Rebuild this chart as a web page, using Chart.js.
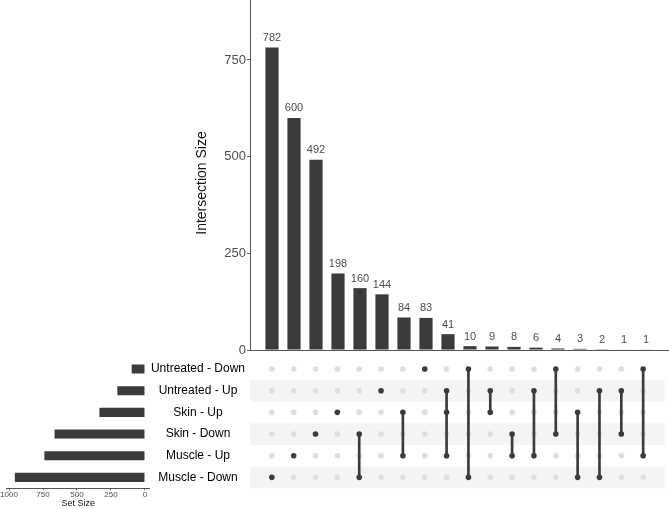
<!DOCTYPE html>
<html><head><meta charset="utf-8">
<script src="https://cdn.jsdelivr.net/npm/chart.js@4/dist/chart.umd.min.js"></script>
<style>
html,body{margin:0;padding:0;background:#fff;}
#wrap{position:relative;width:669px;height:509px;overflow:hidden;}
canvas{position:absolute;left:0;top:0;width:669px;height:509px;}
</style></head><body>
<div id="wrap">
<canvas id="left" width="669" height="509"></canvas>
<canvas id="top" width="669" height="509"></canvas>
<canvas id="matrix" width="669" height="509"></canvas>
</div>
<script>
// ---- data ----
const setNames = ['Untreated - Down','Untreated - Up','Skin - Up','Skin - Down','Muscle - Up','Muscle - Down'];
const setSizes = [98, 203, 335, 665, 740, 957];
const intersectionSizes = [782,600,492,198,160,144,84,83,41,10,9,8,6,4,3,2,1,1];
// row indices (into setNames) of each intersection column
const intersectionSets = [[5],[4],[3],[2],[3,5],[1],[2,4],[0],[1,2,4],[0,5],[1,2],[3,4],[1,4],[0,3],[2,5],[1,5],[1,3],[0,4]];
const intersectionTicks = [0,250,500,750];
const setSizeTicks = [0,250,500,750,1000];

Chart.defaults.font.family = '"Liberation Sans", Arial, sans-serif';
const DARK = '#3b3b3b';
const AXIS = '#555555';
const common = {responsive:false, animation:false, events:[], plugins:{legend:{display:false}, tooltip:{enabled:false}}};
function noPad(s){ s.paddingTop = 0; s.paddingBottom = 0; s.paddingLeft = 0; s.paddingRight = 0; }

// ---- top: intersection sizes ----
const barLabels = {id:'barLabels', afterDatasetsDraw(chart){
  const ctx = chart.ctx; const meta = chart.getDatasetMeta(0);
  ctx.save(); ctx.font = '11px "Liberation Sans", Arial, sans-serif'; ctx.fillStyle = '#4d4d4d';
  ctx.textAlign = 'center'; ctx.textBaseline = 'alphabetic';
  meta.data.forEach((bar,i)=>{ ctx.fillText(String(intersectionSizes[i]), bar.x, bar.y - 6.5); });
  ctx.restore();
}};
const yTitle = {id:'yTitle', afterDraw(chart){
  const ctx = chart.ctx; ctx.save();
  ctx.translate(202, 183); ctx.rotate(-Math.PI/2);
  ctx.font = '14px "Liberation Sans", Arial, sans-serif'; ctx.fillStyle = '#111';
  ctx.textAlign = 'center'; ctx.textBaseline = 'middle';
  ctx.fillText('Intersection Size', 0, 0); ctx.restore();
}};
new Chart(document.getElementById('top'), {
  type:'bar',
  data:{datasets:[{data: intersectionSizes.map((v,i)=>({x:i+1, y:v})), backgroundColor:DARK, barPercentage:0.6, categoryPercentage:1}]},
  options:Object.assign({}, common, {
    layout:{padding:{left:0, right:1, top:0, bottom:159}},
    scales:{
      x:{type:'linear', min:0, max:19, offset:false, grid:{display:false}, border:{display:true, color:AXIS, width:1}, ticks:{display:false}, afterFit(s){s.height=0; noPad(s);}},
      y:{type:'linear', min:0, max:905, afterBuildTicks(s){s.ticks = intersectionTicks.map(v=>({value:v}));}, afterFit(s){s.width=250; noPad(s);},
         grid:{drawOnChartArea:false, drawTicks:true, tickLength:3, color:AXIS}, border:{color:AXIS, width:1},
         ticks:{font:{size:13}, color:'#4d4d4d', padding:1, callback:(v)=>String(v)}}
    }
  }),
  plugins:[barLabels, yTitle]
});

// ---- left: set sizes ----
new Chart(document.getElementById('left'), {
  type:'bar',
  data:{labels:setNames, datasets:[{data:setSizes, backgroundColor:DARK, barPercentage:0.42, categoryPercentage:1}]},
  options:Object.assign({}, common, {
    indexAxis:'y',
    layout:{padding:{left:6.7, right:519, top:358.2, bottom:0}},
    scales:{
      y:{type:'category', display:false, offset:true, afterFit(s){s.width=0; noPad(s);}},
      x:{type:'linear', reverse:true, min:-37, max:1017, position:'bottom',
         afterBuildTicks(s){s.ticks = setSizeTicks.map(v=>({value:v}));}, afterFit(s){s.height=20.8; noPad(s);},
         grid:{drawOnChartArea:false, drawTicks:true, tickLength:2, color:AXIS}, border:{color:AXIS, width:1},
         ticks:{font:{size:8}, color:'#4d4d4d', padding:0, maxRotation:0, callback:(v)=>String(v)},
         title:{display:true, text:'Set Size', font:{size:9}, color:'#111', padding:0}}
    }
  })
});

// ---- matrix ----
const emptyDots = [], filledDots = [], links = [];
intersectionSets.forEach((sets,i)=>{
  for (let r=0; r<setNames.length; r++) (sets.includes(r) ? filledDots : emptyDots).push({x:i+1, y:r});
  if (sets.length > 1) links.push({x:i+1, y:[Math.min(...sets), Math.max(...sets)]});
});
const stripes = {id:'stripes', beforeDatasetsDraw(chart){
  const {ctx, chartArea, scales:{y}} = chart; ctx.save(); ctx.fillStyle = '#f4f4f4';
  setNames.forEach((n,r)=>{ if (r%2===1){
    const a = y.getPixelForValue(r-0.5), b = y.getPixelForValue(r+0.5);
    ctx.fillRect(chartArea.left, Math.min(a,b), chartArea.right-chartArea.left, Math.abs(b-a));
  }});
  ctx.restore();
}};
new Chart(document.getElementById('matrix'), {
  type:'bar',
  data:{datasets:[
    {type:'scatter', data:filledDots, backgroundColor:DARK, borderWidth:0, pointRadius:2.8, order:0},
    {type:'bar', data:links, backgroundColor:DARK, barThickness:2, order:1},
    {type:'scatter', data:emptyDots, backgroundColor:'#dedede', borderWidth:0, pointRadius:2.8, order:2}
  ]},
  options:Object.assign({}, common, {
    layout:{padding:{left:145, right:1, top:358.2, bottom:20.8}},
    scales:{
      x:{type:'linear', min:0, max:19, offset:false, display:false},
      y:{type:'linear', reverse:true, min:-0.5, max:5.5,
         afterBuildTicks(s){s.ticks = setNames.map((n,i)=>({value:i}));}, afterFit(s){s.width=105; noPad(s);},
         grid:{display:false, drawTicks:false}, border:{display:false},
         ticks:{font:{size:12}, color:'#000', padding:5, crossAlign:'center', callback:(v)=>setNames[v]}}
    }
  }),
  plugins:[stripes]
});
</script>
</body></html>
